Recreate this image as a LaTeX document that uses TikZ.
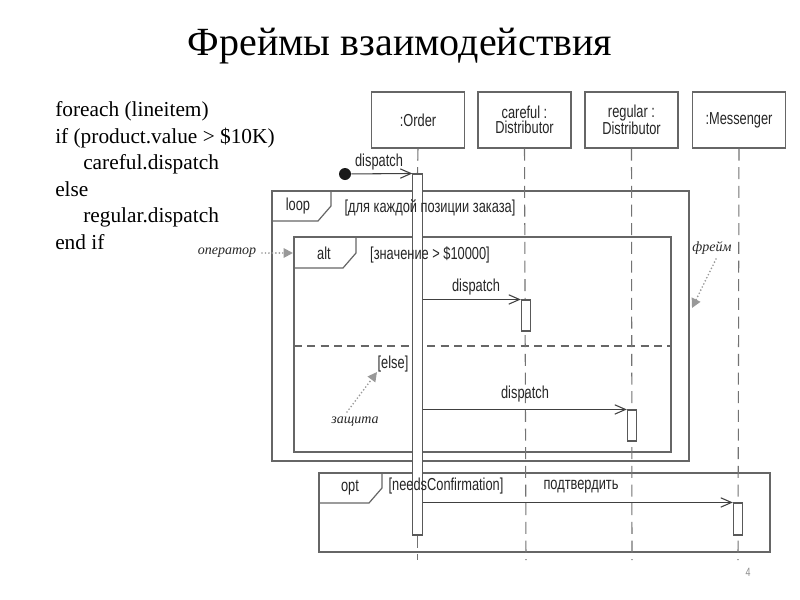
\documentclass[tikz,border=0pt]{standalone}
\usepackage{fontspec}
\setmainfont{Liberation Serif}
\newfontfamily\dg[FakeStretch=0.74]{Liberation Sans}
\usetikzlibrary{arrows.meta}
\begin{document}
\begin{tikzpicture}[x=0.75pt,y=-0.75pt,
  lbl/.style={font=\dg\fontsize{13}{11.5}\selectfont, text=black!85, inner sep=0pt, align=center},
  head/.style={draw=black!60, line width=0.8pt, minimum width=69.75pt, minimum height=42pt, inner sep=0pt, font=\dg\fontsize{13}{11.5}\selectfont, text=black!85, align=center},
  frm/.style={draw=black!60, line width=0.9pt},
  life/.style={draw=black!55, line width=0.8pt, dash pattern=on 9pt off 5pt},
  bar/.style={draw=black!65, line width=0.8pt, fill=white, minimum width=7pt, inner sep=0pt},
  msg/.style={draw=black!75, line width=0.8pt, -{Straight Barb[length=8pt,width=7pt]}},
  note/.style={font=\itshape\fontsize{10.5}{12}\selectfont, text=black!85, inner sep=0pt},
  notearrow/.style={draw=black!40, line width=1.4pt, line cap=round, dash pattern=on 0pt off 2.6pt, -{Triangle[length=7pt,width=7pt]}},
  code/.style={font=\fontsize{16}{18}\selectfont, anchor=base west, inner sep=0pt}]
\useasboundingbox (0,0) rectangle (800,600);
\fill[white] (0,0) rectangle (800,600);

% title
\node[font=\fontsize{30}{33}\selectfont] (title) at (400,46) {Фреймы взаимодействия};

% pseudo code
\node[code] (c1) at (55,116.5) {foreach (lineitem)};
\node[code] (c2) at (55,143) {if (product.value > \$10K)};
\node[code] (c3) at (83,169.5) {careful.dispatch};
\node[code] (c4) at (55,196) {else};
\node[code] (c5) at (83,222.5) {regular.dispatch};
\node[code] (c6) at (55,249) {end if};

% lifeline heads
\node[head] (o) at (418,120) {:Order};
\node[head] (cd) at (524.5,120) {careful :\\Distributor};
\node[head] (rd) at (631.5,120) {regular :\\Distributor};
\node[head] (ms) at (739,120) {:Messenger};

\coordinate (oe) at (417.5,560);
\coordinate (cde) at (526,560);
\coordinate (rde) at (632,560);
\coordinate (mse) at (738,560);

% frames
\draw[frm] (272,191) rectangle (689,461);
\draw[frm] (331,191) -- (331,206) -- (318,221) -- (272,221);
\draw[frm] (294,237) rectangle (671,452);
\draw[frm] (356,237) -- (356,253) -- (343,268) -- (294,268);
\draw[frm, dash pattern=on 6pt off 4pt] (294,346) -- (671,346);
\draw[frm] (319,473) rectangle (770,552);
\draw[frm] (382,473) -- (382,488) -- (369,503) -- (319,503);

% activation bars (positions)
\node[bar, minimum height=270.75pt] (ob) at (417.5,354.5) {};
\node[bar, minimum height=23.25pt] (cb) at (526,315.5) {};
\node[bar, minimum height=23.25pt] (rb) at (632,425.5) {};
\node[bar, minimum height=24pt] (mb) at (738,519) {};

% lifelines
\draw[life] (o.south) -- (ob.north);
\draw[life] (ob.south) -- (oe);
\draw[life] (cd.south) -- (cde);
\draw[life] (rd.south) -- (rde);
\draw[life] (ms.south) -- (mse);
\node[bar, minimum height=270.75pt] at (ob) {};
\node[bar, minimum height=23.25pt] at (cb) {};
\node[bar, minimum height=23.25pt] at (rb) {};
\node[bar, minimum height=24pt] at (mb) {};

% frame labels
\node[lbl] (loopl) at (298,206) {loop};
\node[lbl] (loopg) at (430,207.5) {[для каждой позиции заказа]};
\node[lbl] (altl) at (324,253) {alt};
\node[lbl] (altg) at (430,254.5) {[значение > \$10000]};
\node[lbl] (elseg) at (393,364) {[else]};
\node[lbl] (optl) at (350,488) {opt};
\node[lbl] (optg) at (446,486.5) {[needsConfirmation]};

% found message
\node[circle, fill=black!90, minimum size=9pt, inner sep=0pt] (dot) at (345,174) {};
\draw[msg] (dot) -- (ob.north west);
\node[lbl] (m0l) at (379,162) {dispatch};

% messages
\draw[msg] (ob.east |- cb.north) -- (cb.north west);
\node[lbl] (m1l) at (476,287) {dispatch};
\draw[msg] (ob.east |- rb.north) -- (rb.north west);
\node[lbl] (m2l) at (525,394) {dispatch};
\draw[msg] (ob.east |- mb.north) -- (mb.north west);
\node[lbl] (m3l) at (581,487) {подтвердить};

% annotations
\node[note] (nop) at (227,253) {оператор};
\coordinate (nops) at (262,253);
\coordinate (nope) at (293,253);
\draw[notearrow] (nops) -- (nope);
\node[note] (nfr) at (712,248) {фрейм};
\coordinate (nfrs) at (716,259);
\coordinate (nfre) at (692,308);
\draw[notearrow] (nfrs) -- (nfre);
\node[note] (nz) at (355,422) {защита};
\coordinate (nzs) at (347,412);
\coordinate (nze) at (377,372);
\draw[notearrow] (nzs) -- (nze);

% page number
\node[font=\dg\fontsize{9}{10}\selectfont, text=black!45] (pg) at (748,572) {4};
\end{tikzpicture}
\end{document}
